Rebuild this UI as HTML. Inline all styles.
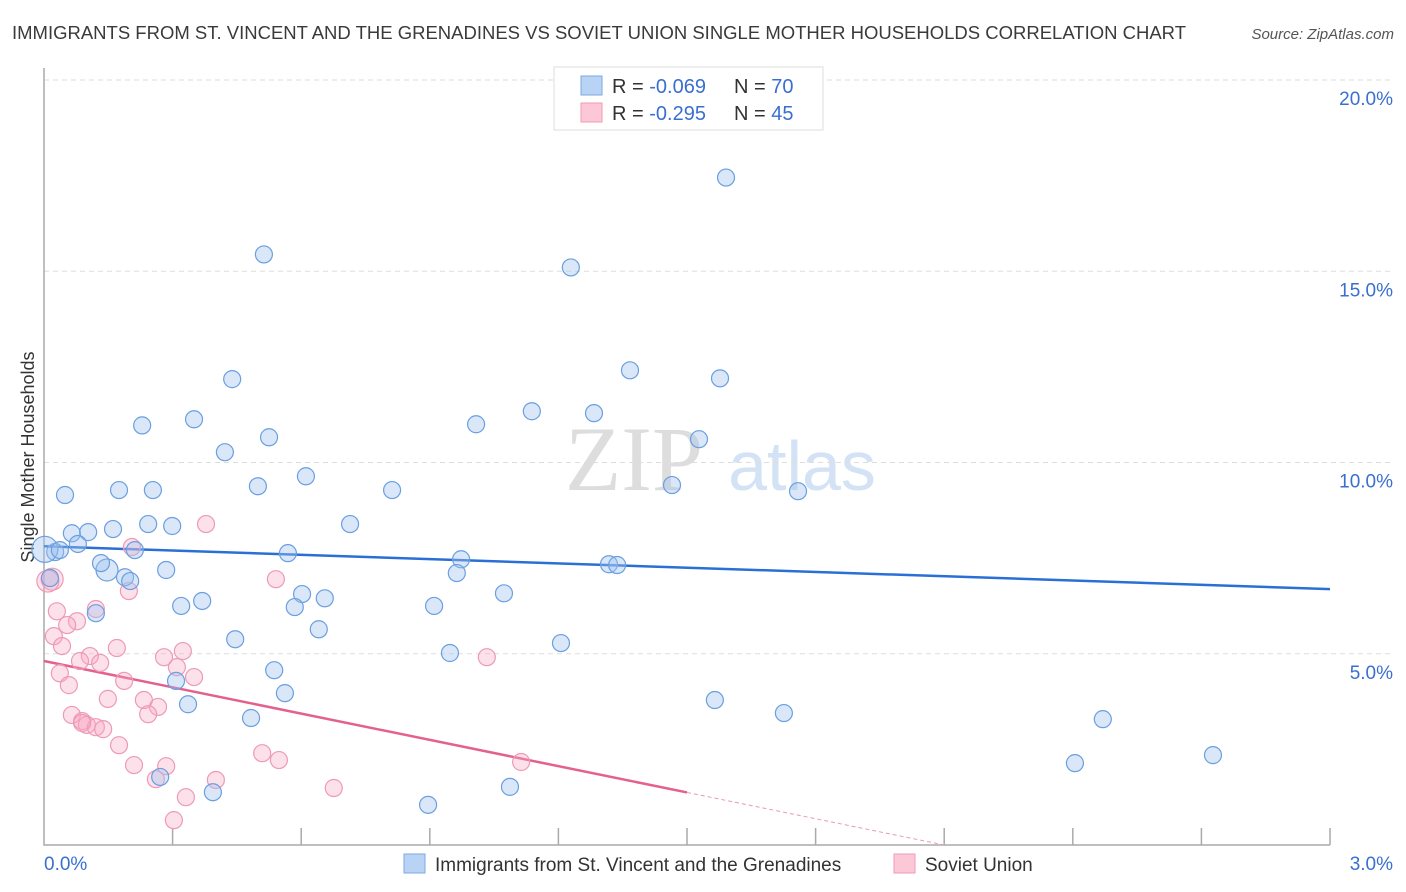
<!DOCTYPE html>
<html><head><meta charset="utf-8"><style>
body{margin:0;background:#fff;font-family:"Liberation Sans",sans-serif;}
svg{display:block}
</style></head><body>
<svg id="chart" width="1406" height="892" xmlns="http://www.w3.org/2000/svg">
<text x="12" y="39" font-size="18.6" fill="#3a3a3a" textLength="1174" lengthAdjust="spacingAndGlyphs">IMMIGRANTS FROM ST. VINCENT AND THE GRENADINES VS SOVIET UNION SINGLE MOTHER HOUSEHOLDS CORRELATION CHART</text>
<text x="1394" y="39" font-size="15" fill="#555" font-style="italic" text-anchor="end">Source: ZipAtlas.com</text>
<text transform="translate(34,457) rotate(-90)" font-size="18" fill="#333" text-anchor="middle">Single Mother Households</text>
<g><text x="634" y="490" font-size="92" fill="#ddd" font-family="Liberation Serif" text-anchor="middle">ZIP</text><text x="802" y="490" font-size="70" fill="#d3e2f4" text-anchor="middle">atlas</text></g>
<g id="grid"></g><g id="axes"></g><g id="trends"></g><g id="pts"></g>
<g>
<rect x="554" y="67" width="269" height="63" fill="#fff" stroke="#ddd"/>
<rect x="581" y="76" width="21" height="19" fill="#b9d3f5" stroke="#7aa8e6"/>
<rect x="581" y="103" width="21" height="19" fill="#fcc8d8" stroke="#f09ab5"/>
<text x="612" y="93" font-size="20" fill="#333">R = <tspan fill="#3a6fd0">-0.069</tspan><tspan x="734">N = </tspan><tspan fill="#3a6fd0">70</tspan></text>
<text x="612" y="120" font-size="20" fill="#333">R = <tspan fill="#3a6fd0"> -0.295</tspan><tspan x="734">N = </tspan><tspan fill="#3a6fd0">45</tspan></text>
</g>
<g>
<rect x="404" y="854" width="21" height="19" fill="#b9d3f5" stroke="#7aa8e6"/>
<text x="435" y="871" font-size="19" fill="#333">Immigrants from St. Vincent and the Grenadines</text>
<rect x="894" y="854" width="21" height="19" fill="#fcc8d8" stroke="#f09ab5"/>
<text x="925" y="871" font-size="19" fill="#333">Soviet Union</text>
</g>
</svg>
<script>
const blueX=[1.591,0.513,1.229,1.367,0.439,1.577,1.138,1.283,0.229,0.350,1.008,0.525,1.528,0.422,0.611,1.465,0.499,0.049,0.175,0.254,0.812,1.759,0.714,0.243,0.299,0.161,0.065,0.103,0.079,0.212,0.026,0.569,0.973,1.318,1.337,0.147,0.285,0.133,0.963,0.189,0.201,0.014,0.602,0.655,1.073,0.369,0.320,0.585,0.910,0.121,0.641,0.446,1.206,0.947,0.537,0.308,0.562,0.336,1.565,1.726,0.483,2.470,2.727,2.405,0.394,1.087,0.896,0.271,0.002,0.037];
const blueY=[17.45,15.44,15.10,12.41,12.18,12.20,11.34,11.29,10.97,11.13,11.00,10.66,10.61,10.27,9.64,9.41,9.38,9.15,9.28,9.28,9.28,9.25,8.39,8.39,8.34,8.26,8.15,8.18,7.87,7.71,7.66,7.63,7.47,7.34,7.32,7.19,7.19,7.37,7.11,7.00,6.90,6.98,6.56,6.45,6.58,6.38,6.25,6.22,6.25,6.06,5.64,5.38,5.28,5.02,4.57,4.29,3.97,3.68,3.79,3.45,3.32,3.29,2.35,2.14,1.38,1.52,1.05,1.78,7.73,7.71];
const pinkX=[0.378,0.205,0.541,0.198,0.019,0.009,0.030,0.121,0.077,0.054,0.023,0.042,0.170,0.324,0.107,0.280,0.084,0.131,0.310,0.037,0.187,0.058,0.350,0.149,0.233,0.266,0.243,0.065,0.089,0.100,0.121,0.138,0.175,0.509,0.548,0.210,0.285,0.261,0.401,0.676,0.331,0.303,1.033,1.113,0.089];
const pinkY=[8.39,7.79,6.95,6.64,6.95,6.90,6.11,6.17,5.85,5.75,5.46,5.20,5.15,5.07,4.94,4.91,4.81,4.76,4.65,4.49,4.29,4.18,4.39,3.82,3.79,3.61,3.42,3.40,3.24,3.14,3.08,3.03,2.61,2.40,2.22,2.09,2.06,1.72,1.70,1.49,1.25,0.65,4.91,2.17,3.19];
const blueTrend=[7.81,6.69];
const pinkTrend=[4.81,0];
const pinkSolidEnd=1.5;
const yTicks=[5,10,15,20];
const yTickLabels=["5.0%","10.0%","15.0%","20.0%"];
const xTickCount=10;
const NS="http://www.w3.org/2000/svg";
const X=v=>44+v*428.67, Y=v=>845-v*38.25;
function mk(p,t,a){const e=document.createElementNS(NS,t);for(const k in a)e.setAttribute(k,a[k]);document.getElementById(p).appendChild(e);return e;}
yTicks.forEach((t,i)=>{
 const g=mk('grid','line',{x1:44,x2:1393,y1:Y(t),y2:Y(t),stroke:'#ddd','stroke-dasharray':'5,4'});
 
 
 const l=mk('axes','text',{x:1393,y:Y(t)+25,'font-size':19,fill:'#3a6fd0','text-anchor':'end'});
 l.textContent=yTickLabels[i];
 
 
});
const ax=mk('axes','path',{d:`M44,68V845H1330`,stroke:'#aaa',fill:'none','stroke-width':1.5});


for(let i=1;i<=xTickCount;i++){const t=mk('axes','line',{x1:X(i*0.3),x2:X(i*0.3),y1:828,y2:845,stroke:'#aaa','stroke-width':1.5});
 
 }
const x0=mk('axes','text',{x:44,y:870,'font-size':19,fill:'#3a6fd0'});x0.textContent='0.0%';


const x1=mk('axes','text',{x:1393,y:870,'font-size':19,fill:'#3a6fd0','text-anchor':'end'});x1.textContent='3.0%';


function pt(x,y,r,fill,stroke,name){const c=mk('pts','circle',{cx:X(x),cy:Y(y),r:r,fill:fill,stroke:stroke,'stroke-width':1.2});
 
 }
pinkX.forEach((x,i)=>pt(x,pinkY[i],i<6&&x<0.03?11:8.5,'rgba(248,170,195,0.35)','#ee9ab5','soviet-union-point'));
blueX.forEach((x,i)=>pt(x,blueY[i],x<0.01?13:(i==35?11:8.5),'rgba(160,195,240,0.4)','#6a9fe0','svg-immigrants-point'));
const bt=mk('trends','line',{x1:X(0),y1:Y(blueTrend[0]),x2:X(3),y2:Y(blueTrend[1]),stroke:'#2a6fd6','stroke-width':2.5});


const px0=2.1;const slope=pinkTrend[0]/px0;
const ps=mk('trends','line',{x1:X(0),y1:Y(pinkTrend[0]),x2:X(pinkSolidEnd),y2:Y(pinkTrend[0]-slope*pinkSolidEnd),stroke:'#e4608f','stroke-width':2.5});


const pd=mk('trends','line',{x1:X(pinkSolidEnd),y1:Y(pinkTrend[0]-slope*pinkSolidEnd),x2:X(px0),y2:Y(pinkTrend[1]),stroke:'#e99ab5','stroke-width':1,'stroke-dasharray':'4,3'});


</script>
</body></html>
